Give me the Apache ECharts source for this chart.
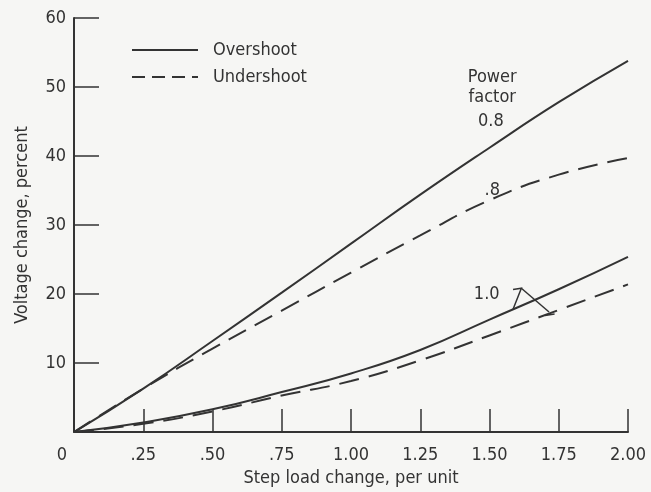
<!DOCTYPE html>
<html>
<head>
<meta charset="utf-8">
<script src="https://cdn.jsdelivr.net/npm/echarts@6/dist/echarts.min.js"></script>
<style>
html,body{margin:0;padding:0;background:#f6f6f4;}
#chart{width:651px;height:492px;}
</style>
</head>
<body>
<div id="chart"></div>
<script>
const xValues = [0, 0.25, 0.5, 0.75, 1.0, 1.25, 1.5, 1.75, 2.0];
const overshoot08 = [0, 6.3, 13.2, 20.2, 27.3, 34.4, 41.2, 47.8, 53.8];
const undershoot08 = [0, 6.3, 12.1, 17.6, 23.1, 28.5, 33.6, 37.3, 39.7];
const overshoot10 = [0, 1.4, 3.3, 5.8, 8.5, 11.9, 16.3, 20.7, 25.4];
const undershoot10 = [0, 1.2, 3.0, 5.3, 7.4, 10.4, 14.0, 17.7, 21.4];
const xTickLabels = ['0', '.25', '.50', '.75', '1.00', '1.25', '1.50', '1.75', '2.00'];
const yTickLabels = ['', '10', '20', '30', '40', '50', '60'];

const FONT = '"DejaVu Sans Condensed", "DejaVu Sans", sans-serif';
const INK = '#333';
const pair = (ys) => xValues.map((x, i) => [x, ys[i]]);

const chart = echarts.init(document.getElementById('chart'), null, {renderer: 'canvas'});
const solid = {color: INK, width: 2, type: 'solid'};
const dashed = {color: INK, width: 2, type: [20, 10]};
const hidden = {opacity: 0, color: 'rgba(0,0,0,0)', borderWidth: 0};

chart.setOption({
  backgroundColor: '#f6f6f4',
  animation: false,
  color: [INK],
  grid: {left: 74, right: 23, top: 18, bottom: 56},
  legend: {
    orient: 'vertical', left: 126, top: 36,
    itemWidth: 66, itemHeight: 14, itemGap: 9,
    itemStyle: hidden,
    textStyle: {fontFamily: FONT, fontSize: 18, color: INK, padding: [0, 0, 0, 10]},
    data: [
      {name: 'Overshoot', itemStyle: hidden, lineStyle: {type: 'solid', width: 2, color: INK}},
      {name: 'Undershoot', itemStyle: hidden, lineStyle: {type: [13, 7], width: 2, color: INK}}
    ]
  },
  xAxis: {
    type: 'value', min: 0, max: 2, interval: 0.25,
    name: 'Step load change, per unit', nameLocation: 'middle', nameGap: 34,
    nameTextStyle: {fontFamily: FONT, fontSize: 18, color: INK},
    axisLine: {lineStyle: {color: INK, width: 2}},
    axisTick: {inside: true, length: 23, lineStyle: {color: INK, width: 1.5}},
    axisLabel: {
      fontFamily: FONT, fontSize: 18, color: INK, margin: 14,
      formatter: (v) => { const i = Math.round(v / 0.25); return i === 0 ? '{z|' + xTickLabels[0] + '}' : xTickLabels[i]; },
      rich: {z: {fontFamily: FONT, fontSize: 18, color: INK, padding: [0, 24, 0, 0]}}
    },
    splitLine: {show: false}
  },
  yAxis: {
    type: 'value', min: 0, max: 60, interval: 10,
    name: 'Voltage change, percent', nameLocation: 'middle', nameGap: 43,
    nameTextStyle: {fontFamily: FONT, fontSize: 18, color: INK},
    axisLine: {show: true, lineStyle: {color: INK, width: 2}},
    axisTick: {show: true, inside: true, length: 25, lineStyle: {color: INK, width: 1.5}},
    axisLabel: {fontFamily: FONT, fontSize: 18, color: INK, margin: 8,
      formatter: (v) => yTickLabels[Math.round(v / 10)]},
    splitLine: {show: false}
  },
  series: [
    {name: 'Overshoot', type: 'line', smooth: true, symbol: 'none', itemStyle: {color: INK}, lineStyle: solid, data: pair(overshoot08)},
    {name: 'Undershoot', type: 'line', smooth: true, symbol: 'none', itemStyle: {color: INK}, lineStyle: dashed, data: pair(undershoot08)},
    {name: 'Overshoot', type: 'line', smooth: true, symbol: 'none', itemStyle: {color: INK}, lineStyle: solid, data: pair(overshoot10)},
    {name: 'Undershoot', type: 'line', smooth: true, symbol: 'none', itemStyle: {color: INK}, lineStyle: dashed, data: pair(undershoot10)}
  ]
});

// annotations positioned in data space
const P = (x, y) => chart.convertToPixel({gridIndex: 0}, [x, y]);
const txt = (x, y, s, align) => {
  const p = P(x, y);
  return {type: 'text', x: p[0], y: p[1], style: {text: s, fill: INK, font: '18px ' + FONT, align: align || 'center', verticalAlign: 'middle', lineHeight: 20}};
};
const seg = (pts) => ({type: 'polyline', shape: {points: pts.map(q => P(q[0], q[1]))}, style: {stroke: INK, lineWidth: 1.5, fill: null}});

chart.setOption({
  graphic: [
    txt(1.51, 49.9, 'Power\nfactor'),
    txt(1.505, 45.0, '0.8'),
    txt(1.51, 35.0, '.8'),
    txt(1.49, 20.0, '1.0'),
    seg([[1.585, 20.65], [1.615, 20.85], [1.585, 17.8]]),
    seg([[1.615, 20.85], [1.715, 17.4]]),
    seg([[1.70, 16.9], [1.735, 17.1]])
  ]
});
</script>
</body>
</html>
